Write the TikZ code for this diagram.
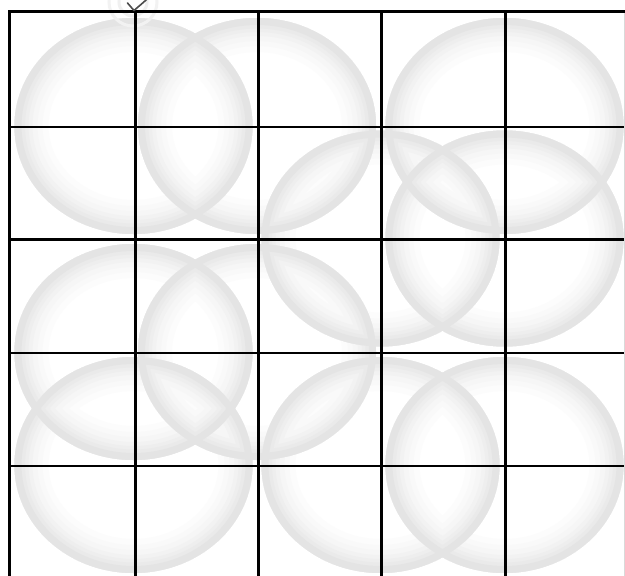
\documentclass[tikz,border=0pt]{standalone}
\begin{document}
\begin{tikzpicture}[x=1pt,y=-1pt,
  gridline/.style={line width=2.8pt, black},
  ring/.style={even odd rule}]
\useasboundingbox (0,0) rectangle (625,576);
\fill[white] (0,0) rectangle (625,576);
% circle centres (near grid crossings)
\foreach \n/\cx/\cy in {A/133.5/126, B/257/126, C/504.5/126, D/504.5/238.5,
  E/380.5/238.5, F/133.5/352, G/257/352, H/133.5/465, I/380.5/465, J/504.5/465}
  \coordinate (\n) at (\cx,\cy);
% soft bubble rims, drawn lightest to darkest
\foreach \w/\c in {34/1.2, 28/2.4, 23/3.6, 18/5, 14/6.5, 10.5/8.2, 7/10.5}{
  \foreach \n in {A,B,C,D,E,F,G,H,I,J}
    \fill[black!\c, ring] (\n) ellipse[x radius=119pt, y radius=108pt]
                          (\n) ellipse[x radius={(119-\w)*1pt}, y radius={(108-\w)*1pt}];
}
% faint ripple at the top
\draw[black!6, line width=3pt] (133,2) circle[radius=14pt];
\draw[black!5, line width=3pt] (133,2) circle[radius=24pt];
% grid
\foreach \y in {11.7,127,239.5,353,466}
  \draw[gridline] (8.1,\y) -- (625,\y);
\foreach \x in {9.5,135.5,258.5,381.5,505.5}
  \draw[gridline] (\x,10.3) -- (\x,576);
\draw[black!15, line width=0.8pt] (624,13) -- (624,576);
% small dark mark at the top
\draw[black!70, line width=1.6pt, line cap=round, line join=round]
  (127.5,3) -- (134,10.5) .. controls (139,6) and (143,3) .. (147,-1);
\end{tikzpicture}
\end{document}
